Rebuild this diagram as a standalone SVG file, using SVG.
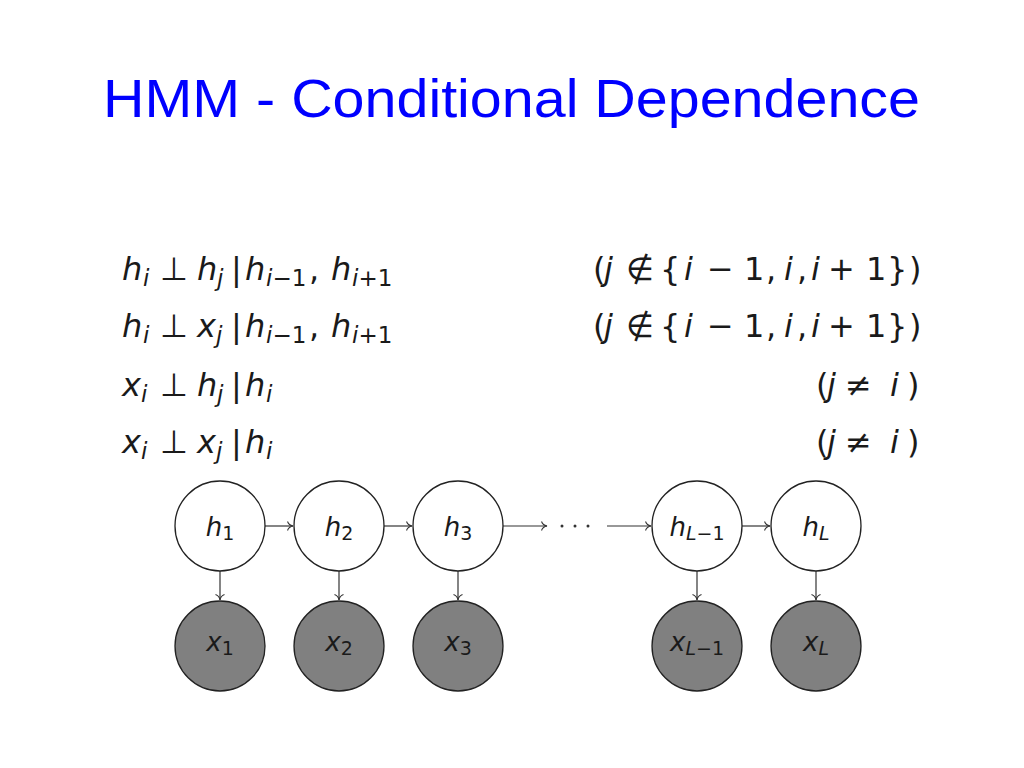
<svg xmlns="http://www.w3.org/2000/svg" width="1024" height="768" viewBox="0 0 1024 768">
<defs>
<style>
.title{font-family:"Liberation Sans","Open Sans",sans-serif;font-size:54px;fill:#0000ff}
.m{font-family:"DejaVu Sans","Liberation Sans",sans-serif;font-size:32px;fill:#1a1a1a}
.it{font-style:italic}
.sb{font-size:23px}
.ls{font-size:19px}
.hn{fill:#ffffff;stroke:#222;stroke-width:1.3}
.xn{fill:#808080;stroke:#222;stroke-width:1.3}
.lbl{font-family:"DejaVu Sans","Liberation Sans",sans-serif;font-size:26px;fill:#1a1a1a;text-anchor:middle}
.edge{stroke:#333;stroke-width:1.2;fill:none}
</style>
<marker id="ah" viewBox="-6 -5 7 10" refX="0" refY="0" markerWidth="7" markerHeight="10" markerUnits="userSpaceOnUse" orient="auto">
<path d="M-5.5,-4.5 C-4.5,-1.6 -1.6,-0.3 0,0 C-1.6,0.3 -4.5,1.6 -5.5,4.5" fill="none" stroke="#333" stroke-width="1.1"/>
</marker>
</defs>
<rect width="1024" height="768" fill="#ffffff"/>
<text class="title" x="103" y="117" textLength="817" lengthAdjust="spacingAndGlyphs">HMM - Conditional Dependence</text>

<g id="equations">
<text class="m" y="280"><tspan class="it" x="122">h</tspan><tspan class="it sb" x="143" dy="6">i</tspan><tspan x="160" dy="-6">⊥</tspan><tspan class="it" x="197">h</tspan><tspan class="it sb" x="217" dy="6">j</tspan><tspan x="231" dy="-6">|</tspan><tspan class="it" x="245">h</tspan><tspan class="sb" x="266" dy="6"><tspan class="it">i</tspan>−1</tspan><tspan x="309" dy="-6">,</tspan><tspan class="it" x="331">h</tspan><tspan class="sb" x="352" dy="6"><tspan class="it">i</tspan>+1</tspan></text>
<text class="m" y="337"><tspan class="it" x="122">h</tspan><tspan class="it sb" x="143" dy="6">i</tspan><tspan x="160" dy="-6">⊥</tspan><tspan class="it" x="197">x</tspan><tspan class="it sb" x="216" dy="6">j</tspan><tspan x="231" dy="-6">|</tspan><tspan class="it" x="245">h</tspan><tspan class="sb" x="266" dy="6"><tspan class="it">i</tspan>−1</tspan><tspan x="309" dy="-6">,</tspan><tspan class="it" x="331">h</tspan><tspan class="sb" x="352" dy="6"><tspan class="it">i</tspan>+1</tspan></text>
<text class="m" y="396"><tspan class="it" x="122">x</tspan><tspan class="it sb" x="141" dy="6">i</tspan><tspan x="160" dy="-6">⊥</tspan><tspan class="it" x="197">h</tspan><tspan class="it sb" x="217" dy="6">j</tspan><tspan x="231" dy="-6">|</tspan><tspan class="it" x="245">h</tspan><tspan class="it sb" x="266" dy="6">i</tspan></text>
<text class="m" y="453"><tspan class="it" x="122">x</tspan><tspan class="it sb" x="141" dy="6">i</tspan><tspan x="160" dy="-6">⊥</tspan><tspan class="it" x="197">x</tspan><tspan class="it sb" x="216" dy="6">j</tspan><tspan x="231" dy="-6">|</tspan><tspan class="it" x="245">h</tspan><tspan class="it sb" x="266" dy="6">i</tspan></text>

<text class="m" y="280"><tspan x="593">(</tspan><tspan class="it" x="604">j</tspan><tspan x="626">∉</tspan><tspan x="660">{</tspan><tspan class="it" x="684">i</tspan><tspan x="707">−</tspan><tspan x="744">1</tspan><tspan x="766">,</tspan><tspan class="it" x="784">i</tspan><tspan x="797">,</tspan><tspan class="it" x="811">i</tspan><tspan x="828">+</tspan><tspan x="866">1</tspan><tspan x="887">}</tspan><tspan x="909">)</tspan></text>
<text class="m" y="337"><tspan x="593">(</tspan><tspan class="it" x="604">j</tspan><tspan x="626">∉</tspan><tspan x="660">{</tspan><tspan class="it" x="684">i</tspan><tspan x="707">−</tspan><tspan x="744">1</tspan><tspan x="766">,</tspan><tspan class="it" x="784">i</tspan><tspan x="797">,</tspan><tspan class="it" x="811">i</tspan><tspan x="828">+</tspan><tspan x="866">1</tspan><tspan x="887">}</tspan><tspan x="909">)</tspan></text>
<text class="m" y="396"><tspan x="816">(</tspan><tspan class="it" x="827">j</tspan><tspan x="845">≠</tspan><tspan class="it" x="890">i</tspan><tspan x="907">)</tspan></text>
<text class="m" y="453"><tspan x="816">(</tspan><tspan class="it" x="827">j</tspan><tspan x="845">≠</tspan><tspan class="it" x="890">i</tspan><tspan x="907">)</tspan></text>
</g>

<g id="connectors">
<line class="edge" x1="265" y1="526" x2="293" y2="526" marker-end="url(#ah)"/>
<line class="edge" x1="384" y1="526" x2="412" y2="526" marker-end="url(#ah)"/>
<line class="edge" x1="503" y1="526" x2="547" y2="526" marker-end="url(#ah)"/>
<line class="edge" x1="607" y1="526" x2="651" y2="526" marker-end="url(#ah)"/>
<line class="edge" x1="742" y1="526" x2="770" y2="526" marker-end="url(#ah)"/>
<line class="edge" x1="220" y1="571" x2="220" y2="600" marker-end="url(#ah)"/>
<line class="edge" x1="339" y1="571" x2="339" y2="600" marker-end="url(#ah)"/>
<line class="edge" x1="458" y1="571" x2="458" y2="600" marker-end="url(#ah)"/>
<line class="edge" x1="697" y1="571" x2="697" y2="600" marker-end="url(#ah)"/>
<line class="edge" x1="816" y1="571" x2="816" y2="600" marker-end="url(#ah)"/>
</g>
<g id="dots" fill="#333">
<circle cx="562" cy="526" r="1.5"/>
<circle cx="575" cy="526" r="1.5"/>
<circle cx="588" cy="526" r="1.5"/>
</g>

<g id="h1"><circle class="hn" cx="220" cy="526" r="45"/><text class="lbl" x="220" y="536"><tspan class="it">h</tspan><tspan class="ls" dy="4">1</tspan></text></g>
<g id="h2"><circle class="hn" cx="339" cy="526" r="45"/><text class="lbl" x="339" y="536"><tspan class="it">h</tspan><tspan class="ls" dy="4">2</tspan></text></g>
<g id="h3"><circle class="hn" cx="458" cy="526" r="45"/><text class="lbl" x="458" y="536"><tspan class="it">h</tspan><tspan class="ls" dy="4">3</tspan></text></g>
<g id="hLm1"><circle class="hn" cx="697" cy="526" r="45"/><text class="lbl" x="697" y="536"><tspan class="it">h</tspan><tspan class="ls" dy="4"><tspan class="it">L</tspan>−1</tspan></text></g>
<g id="hL"><circle class="hn" cx="816" cy="526" r="45"/><text class="lbl" x="816" y="536"><tspan class="it">h</tspan><tspan class="ls it" dy="4">L</tspan></text></g>

<g id="x1"><circle class="xn" cx="220" cy="646" r="45"/><text class="lbl" x="220" y="651"><tspan class="it">x</tspan><tspan class="ls" dy="4">1</tspan></text></g>
<g id="x2"><circle class="xn" cx="339" cy="646" r="45"/><text class="lbl" x="339" y="651"><tspan class="it">x</tspan><tspan class="ls" dy="4">2</tspan></text></g>
<g id="x3"><circle class="xn" cx="458" cy="646" r="45"/><text class="lbl" x="458" y="651"><tspan class="it">x</tspan><tspan class="ls" dy="4">3</tspan></text></g>
<g id="xLm1"><circle class="xn" cx="697" cy="646" r="45"/><text class="lbl" x="697" y="651"><tspan class="it">x</tspan><tspan class="ls" dy="4"><tspan class="it">L</tspan>−1</tspan></text></g>
<g id="xL"><circle class="xn" cx="816" cy="646" r="45"/><text class="lbl" x="816" y="651"><tspan class="it">x</tspan><tspan class="ls it" dy="4">L</tspan></text></g>
</svg>
